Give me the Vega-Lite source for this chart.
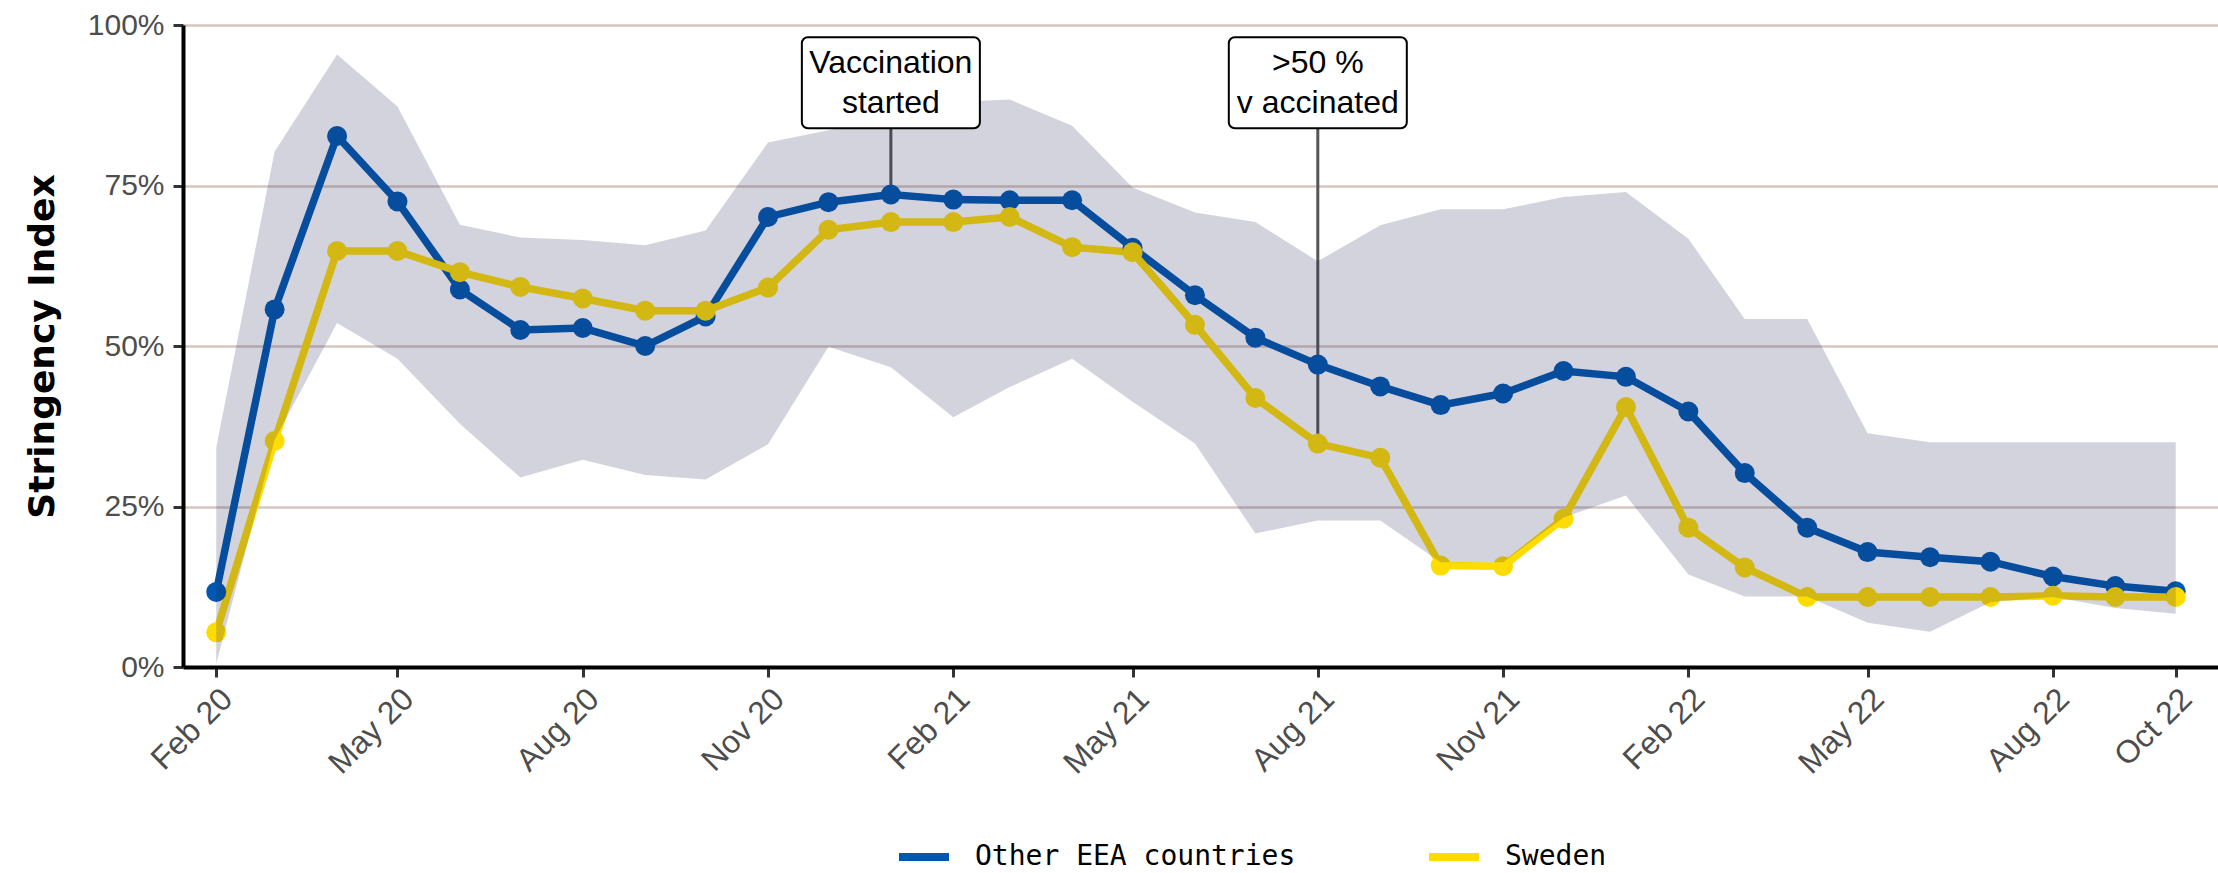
{
  "$schema": "https://vega.github.io/schema/vega-lite/v6.json",
  "width": 2035,
  "height": 642,
  "autosize": {"type": "none"},
  "padding": {"left": 183, "top": 25, "right": 0, "bottom": 206},
  "background": "white",
  "config": {"view": {"stroke": null}},
  "datasets": {
    "series": [
      {"month": "2020-02-01", "series": "Other EEA countries", "value": 11.7},
      {"month": "2020-03-01", "series": "Other EEA countries", "value": 55.7},
      {"month": "2020-04-01", "series": "Other EEA countries", "value": 82.7},
      {"month": "2020-05-01", "series": "Other EEA countries", "value": 72.5},
      {"month": "2020-06-01", "series": "Other EEA countries", "value": 58.8},
      {"month": "2020-07-01", "series": "Other EEA countries", "value": 52.5},
      {"month": "2020-08-01", "series": "Other EEA countries", "value": 52.8},
      {"month": "2020-09-01", "series": "Other EEA countries", "value": 50.0},
      {"month": "2020-10-01", "series": "Other EEA countries", "value": 54.6},
      {"month": "2020-11-01", "series": "Other EEA countries", "value": 70.1},
      {"month": "2020-12-01", "series": "Other EEA countries", "value": 72.4},
      {"month": "2021-01-01", "series": "Other EEA countries", "value": 73.6},
      {"month": "2021-02-01", "series": "Other EEA countries", "value": 72.8},
      {"month": "2021-03-01", "series": "Other EEA countries", "value": 72.7},
      {"month": "2021-04-01", "series": "Other EEA countries", "value": 72.7},
      {"month": "2021-05-01", "series": "Other EEA countries", "value": 65.3},
      {"month": "2021-06-01", "series": "Other EEA countries", "value": 57.9},
      {"month": "2021-07-01", "series": "Other EEA countries", "value": 51.3},
      {"month": "2021-08-01", "series": "Other EEA countries", "value": 47.1},
      {"month": "2021-09-01", "series": "Other EEA countries", "value": 43.7},
      {"month": "2021-10-01", "series": "Other EEA countries", "value": 40.8},
      {"month": "2021-11-01", "series": "Other EEA countries", "value": 42.6},
      {"month": "2021-12-01", "series": "Other EEA countries", "value": 46.1},
      {"month": "2022-01-01", "series": "Other EEA countries", "value": 45.2},
      {"month": "2022-02-01", "series": "Other EEA countries", "value": 39.8},
      {"month": "2022-03-01", "series": "Other EEA countries", "value": 30.2},
      {"month": "2022-04-01", "series": "Other EEA countries", "value": 21.7},
      {"month": "2022-05-01", "series": "Other EEA countries", "value": 17.9},
      {"month": "2022-06-01", "series": "Other EEA countries", "value": 17.1},
      {"month": "2022-07-01", "series": "Other EEA countries", "value": 16.4},
      {"month": "2022-08-01", "series": "Other EEA countries", "value": 14.1},
      {"month": "2022-09-01", "series": "Other EEA countries", "value": 12.6},
      {"month": "2022-10-01", "series": "Other EEA countries", "value": 11.8},
      {"month": "2020-02-01", "series": "Sweden", "value": 5.4},
      {"month": "2020-03-01", "series": "Sweden", "value": 35.2},
      {"month": "2020-04-01", "series": "Sweden", "value": 64.8},
      {"month": "2020-05-01", "series": "Sweden", "value": 64.8},
      {"month": "2020-06-01", "series": "Sweden", "value": 61.5},
      {"month": "2020-07-01", "series": "Sweden", "value": 59.2},
      {"month": "2020-08-01", "series": "Sweden", "value": 57.4},
      {"month": "2020-09-01", "series": "Sweden", "value": 55.5},
      {"month": "2020-10-01", "series": "Sweden", "value": 55.5},
      {"month": "2020-11-01", "series": "Sweden", "value": 59.1},
      {"month": "2020-12-01", "series": "Sweden", "value": 68.1},
      {"month": "2021-01-01", "series": "Sweden", "value": 69.3},
      {"month": "2021-02-01", "series": "Sweden", "value": 69.3},
      {"month": "2021-03-01", "series": "Sweden", "value": 70.1},
      {"month": "2021-04-01", "series": "Sweden", "value": 65.4},
      {"month": "2021-05-01", "series": "Sweden", "value": 64.6},
      {"month": "2021-06-01", "series": "Sweden", "value": 53.3},
      {"month": "2021-07-01", "series": "Sweden", "value": 41.9},
      {"month": "2021-08-01", "series": "Sweden", "value": 34.8},
      {"month": "2021-09-01", "series": "Sweden", "value": 32.6},
      {"month": "2021-10-01", "series": "Sweden", "value": 15.8},
      {"month": "2021-11-01", "series": "Sweden", "value": 15.7},
      {"month": "2021-12-01", "series": "Sweden", "value": 23.1},
      {"month": "2022-01-01", "series": "Sweden", "value": 40.5},
      {"month": "2022-02-01", "series": "Sweden", "value": 21.7},
      {"month": "2022-03-01", "series": "Sweden", "value": 15.5},
      {"month": "2022-04-01", "series": "Sweden", "value": 10.9},
      {"month": "2022-05-01", "series": "Sweden", "value": 10.9},
      {"month": "2022-06-01", "series": "Sweden", "value": 10.9},
      {"month": "2022-07-01", "series": "Sweden", "value": 10.9},
      {"month": "2022-08-01", "series": "Sweden", "value": 11.1},
      {"month": "2022-09-01", "series": "Sweden", "value": 10.9},
      {"month": "2022-10-01", "series": "Sweden", "value": 10.9}
    ],
    "band": [
      {"month": "2020-02-01", "lo": 0.5, "hi": 34.2},
      {"month": "2020-03-01", "lo": 35.4, "hi": 80.3},
      {"month": "2020-04-01", "lo": 53.6, "hi": 95.4},
      {"month": "2020-05-01", "lo": 48.0, "hi": 87.3},
      {"month": "2020-06-01", "lo": 37.9, "hi": 68.9},
      {"month": "2020-07-01", "lo": 29.5, "hi": 66.9},
      {"month": "2020-08-01", "lo": 32.3, "hi": 66.5},
      {"month": "2020-09-01", "lo": 29.9, "hi": 65.7},
      {"month": "2020-10-01", "lo": 29.2, "hi": 68.0},
      {"month": "2020-11-01", "lo": 34.7, "hi": 81.7},
      {"month": "2020-12-01", "lo": 49.9, "hi": 83.6},
      {"month": "2021-01-01", "lo": 46.7, "hi": 85.5},
      {"month": "2021-02-01", "lo": 38.9, "hi": 88.0},
      {"month": "2021-03-01", "lo": 43.6, "hi": 88.4},
      {"month": "2021-04-01", "lo": 48.0, "hi": 84.3},
      {"month": "2021-05-01", "lo": 41.3, "hi": 74.7},
      {"month": "2021-06-01", "lo": 34.8, "hi": 70.8},
      {"month": "2021-07-01", "lo": 20.8, "hi": 69.3},
      {"month": "2021-08-01", "lo": 22.8, "hi": 63.2},
      {"month": "2021-09-01", "lo": 22.8, "hi": 68.8},
      {"month": "2021-10-01", "lo": 16.3, "hi": 71.3},
      {"month": "2021-11-01", "lo": 16.3, "hi": 71.3},
      {"month": "2021-12-01", "lo": 23.3, "hi": 73.2},
      {"month": "2022-01-01", "lo": 26.7, "hi": 74.0},
      {"month": "2022-02-01", "lo": 14.4, "hi": 66.7},
      {"month": "2022-03-01", "lo": 11.0, "hi": 54.2},
      {"month": "2022-04-01", "lo": 11.0, "hi": 54.2},
      {"month": "2022-05-01", "lo": 6.9, "hi": 36.4},
      {"month": "2022-06-01", "lo": 5.5, "hi": 35.0},
      {"month": "2022-07-01", "lo": 10.1, "hi": 35.0},
      {"month": "2022-08-01", "lo": 10.9, "hi": 35.0},
      {"month": "2022-09-01", "lo": 9.2, "hi": 35.0},
      {"month": "2022-10-01", "lo": 8.3, "hi": 35.0}
    ],
    "notes": [
      {"month": "2021-01-01", "label": "Vaccination\nstarted", "boxmid": 91, "top": 83.9, "end": 73.6},
      {"month": "2021-08-01", "label": ">50 %\nv accinated", "boxmid": 91, "top": 83.9, "end": 34.8}
    ]
  },
  "encoding": {
    "x": {
      "field": "month",
      "type": "temporal",
      "scale": {
        "type": "utc",
        "domain": [
          {"year": 2020, "month": 1, "date": 15, "hours": 12, "utc": true},
          {"year": 2022, "month": 10, "date": 22, "utc": true}
        ]
      },
      "axis": {
        "title": null,
        "grid": false,
        "values": [
          {"year": 2020, "month": 2, "date": 1, "utc": true},
          {"year": 2020, "month": 5, "date": 1, "utc": true},
          {"year": 2020, "month": 8, "date": 1, "utc": true},
          {"year": 2020, "month": 11, "date": 1, "utc": true},
          {"year": 2021, "month": 2, "date": 1, "utc": true},
          {"year": 2021, "month": 5, "date": 1, "utc": true},
          {"year": 2021, "month": 8, "date": 1, "utc": true},
          {"year": 2021, "month": 11, "date": 1, "utc": true},
          {"year": 2022, "month": 2, "date": 1, "utc": true},
          {"year": 2022, "month": 5, "date": 1, "utc": true},
          {"year": 2022, "month": 8, "date": 1, "utc": true},
          {"year": 2022, "month": 10, "date": 1, "utc": true}
        ],
        "labelExpr": "utcFormat(datum.value, '%b %y')",
        "labelAngle": 315,
        "labelAlign": "right",
        "labelBaseline": "top",
        "labelFont": "Liberation Sans",
        "labelFontSize": 32,
        "labelColor": "#4d4d4d",
        "labelPadding": 6,
        "labelOverlap": false,
        "labelFlush": false,
        "domainColor": "#000000",
        "domainWidth": 4,
        "tickColor": "#333333",
        "tickWidth": 3,
        "tickSize": 10
      }
    }
  },
  "layer": [
    {
      "data": {"name": "notes"},
      "mark": {"type": "rule", "color": "#555555", "strokeWidth": 3},
      "encoding": {
        "y": {
          "field": "top",
          "type": "quantitative",
          "scale": {"domain": [0, 100], "nice": false},
          "axis": {
            "values": [0, 25, 50, 75, 100],
            "labelExpr": "datum.value + '%'",
            "labelFont": "Liberation Sans",
            "labelFontSize": 30,
            "labelColor": "#4d4d4d",
            "labelPadding": 9,
            "domainColor": "#000000",
            "domainWidth": 4,
            "tickColor": "#333333",
            "tickWidth": 3,
            "tickSize": 10,
            "grid": true,
            "gridColor": "#d6c6c0",
            "gridWidth": 2.5,
            "title": "Stringency Index",
            "titleFont": "DejaVu Sans",
            "titleFontWeight": "bold",
            "titleFontSize": 36,
            "titleColor": "#000000",
            "titleAngle": 270,
            "titleAlign": "center",
            "titleBaseline": "middle",
            "titleX": -141,
            "titleY": 321
          }
        },
        "y2": {"field": "end"}
      }
    },
    {
      "data": {"name": "series"},
      "mark": {"type": "line", "strokeWidth": 7.5},
      "encoding": {
        "y": {"field": "value", "type": "quantitative"},
        "color": {
          "field": "series",
          "type": "nominal",
          "scale": {"domain": ["Other EEA countries", "Sweden"], "range": ["#0058b0", "#ffdc00"]},
          "legend": {
            "title": null,
            "orient": "none",
            "direction": "horizontal",
            "legendX": 712,
            "legendY": 803,
            "symbolType": "stroke",
            "symbolStrokeWidth": 8,
            "symbolSize": 2500,
            "labelFont": "DejaVu Sans Mono",
            "labelFontSize": 28,
            "labelColor": "#000000",
            "labelOffset": 22,
            "labelLimit": 0,
            "columnPadding": 117,
            "padding": 0
          }
        }
      }
    },
    {
      "data": {"name": "series"},
      "mark": {"type": "point", "filled": true, "size": 400, "opacity": 1},
      "encoding": {
        "y": {"field": "value", "type": "quantitative"},
        "color": {"field": "series", "type": "nominal"}
      }
    },
    {
      "data": {"name": "band"},
      "mark": {"type": "area", "color": "#23235a", "opacity": 0.2},
      "encoding": {
        "y": {"field": "lo", "type": "quantitative"},
        "y2": {"field": "hi"}
      }
    },
    {
      "data": {"name": "notes"},
      "mark": {"type": "rect", "width": 178, "height": 91, "fill": "white", "stroke": "#000000", "strokeWidth": 2, "cornerRadius": 6},
      "encoding": {
        "y": {"field": "boxmid", "type": "quantitative"}
      }
    },
    {
      "data": {"name": "notes"},
      "mark": {"type": "text", "font": "Liberation Sans", "fontSize": 32, "lineBreak": "\n", "lineHeight": 40, "dy": -20, "align": "center", "baseline": "middle", "color": "#000000"},
      "encoding": {
        "y": {"field": "boxmid", "type": "quantitative"},
        "text": {"field": "label", "type": "nominal"}
      }
    }
  ]
}
